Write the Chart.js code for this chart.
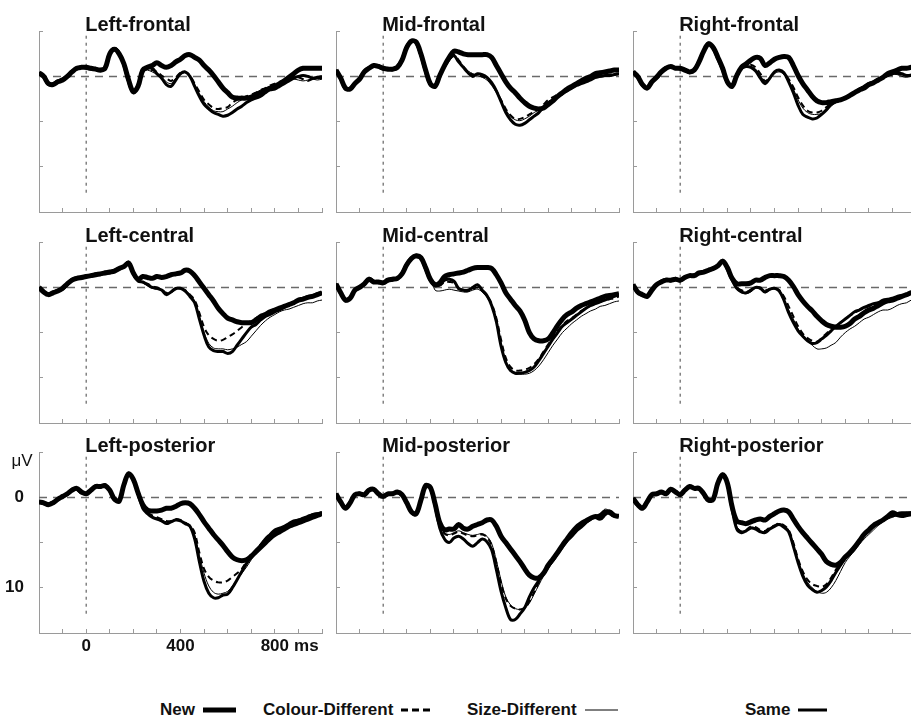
<!DOCTYPE html>
<html>
<head>
<meta charset="utf-8">
<title>ERP waveforms by region</title>
<script src="https://cdn.jsdelivr.net/npm/chart.js@4.4.1/dist/chart.umd.min.js"></script>
<style>
  html, body { margin: 0; padding: 0; background: #fff; }
  body { position: relative; width: 911px; height: 718px; overflow: hidden;
         font-family: "Liberation Sans", Arial, sans-serif; color: #111; }
  canvas.panel { position: absolute; }
  .lg-item { position: absolute; top: 699px; height: 22px; display: flex; align-items: center;
             font-size: 17px; font-weight: bold; white-space: nowrap; color: #111; }
  .lg-item svg { margin-left: 8px; }
</style>
</head>
<body>

<canvas class="panel" id="p0"></canvas>
<canvas class="panel" id="p1"></canvas>
<canvas class="panel" id="p2"></canvas>
<canvas class="panel" id="p3"></canvas>
<canvas class="panel" id="p4"></canvas>
<canvas class="panel" id="p5"></canvas>
<canvas class="panel" id="p6"></canvas>
<canvas class="panel" id="p7"></canvas>
<canvas class="panel" id="p8"></canvas>

<div class="lg-item" style="left:160px"><span>New</span><svg width="33" height="10"><line x1="0" y1="5" x2="33" y2="5" stroke="#000" stroke-width="5"/></svg></div>
<div class="lg-item" style="left:263px"><span>Colour-Different</span><svg width="29" height="10"><line x1="0" y1="5" x2="29" y2="5" stroke="#000" stroke-width="3" stroke-dasharray="7,4"/></svg></div>
<div class="lg-item" style="left:467px"><span>Size-Different</span><svg width="33" height="10"><line x1="0" y1="5" x2="33" y2="5" stroke="#000" stroke-width="1"/></svg></div>
<div class="lg-item" style="left:745px"><span>Same</span><svg width="29" height="10"><line x1="0" y1="5" x2="29" y2="5" stroke="#000" stroke-width="3"/></svg></div>

<script>
// Sample times (ms relative to stimulus onset)
const TIME_MS = [-200,-180,-160,-140,-120,-100,-80,-60,-40,-20,0,20,40,60,80,100,120,140,160,180,
  200,220,240,260,280,300,320,340,360,380,400,420,440,460,480,500,520,540,560,580,
  600,620,640,660,680,700,720,740,760,780,800,820,840,860,880,900,920,940,960,980,1000];

// Tick labels shown on the lower-left panel
const X_TICK_LABELS = [0, 400, 800];
const Y_TICK_LABELS = [0, 10];

const REGIONS = ['Left-frontal','Mid-frontal','Right-frontal',
                 'Left-central','Mid-central','Right-central',
                 'Left-posterior','Mid-posterior','Right-posterior'];

// Mean amplitudes (µV) per region and condition
const leftFrontalNew = [-0.4,0.0,0.8,0.9,0.6,0.4,0.0,-0.5,-0.9,-1.0,-1.0,-0.9,-0.8,-0.7,-0.9,-2.5,-3.0,-2.5,-1.4,0.4,1.7,1.1,-0.7,-1.0,-1.2,-1.5,-1.2,-1.0,-1.2,-1.6,-1.9,-2.3,-2.4,-2.1,-1.8,-1.2,-0.7,-0.1,0.6,1.3,1.8,2.3,2.4,2.4,2.4,2.3,2.0,1.8,1.5,1.3,1.1,0.8,0.5,0.1,-0.3,-0.7,-0.9,-0.9,-0.9,-0.9,-0.9];
const leftFrontalColour = [-0.4,0.0,0.7,0.9,0.6,0.3,0.0,-0.5,-0.9,-1.0,-1.0,-0.9,-0.7,-0.7,-0.8,-2.4,-3.1,-2.7,-1.5,0.3,1.6,1.2,-0.7,-0.8,-0.7,-0.5,-0.1,0.2,0.5,0.1,-0.4,-0.5,-0.1,0.8,1.7,2.6,3.1,3.5,3.6,3.5,3.4,2.9,2.6,2.4,2.2,2.0,1.8,1.5,1.3,1.0,0.8,0.6,0.4,0.2,0.0,0.1,0.3,0.5,0.3,0.2,0.2];
const leftFrontalSize = [-0.5,-0.1,0.8,1.0,0.6,0.4,0.1,-0.4,-0.9,-0.9,-1.1,-0.9,-0.8,-0.8,-0.9,-2.3,-3.0,-2.6,-1.3,0.5,1.7,1.1,-0.7,-0.7,-0.5,-0.2,0.1,0.6,0.8,0.2,-0.2,-0.4,0.0,0.9,1.9,2.8,3.4,3.8,3.9,3.9,3.6,3.3,2.9,2.6,2.4,2.1,1.8,1.5,1.3,1.1,0.9,0.8,0.6,0.4,0.3,0.4,0.5,0.4,0.3,0.4,0.3];
const leftFrontalSame = [-0.3,0.1,0.9,0.8,0.5,0.3,-0.1,-0.6,-0.8,-1.1,-0.9,-0.8,-0.9,-0.6,-1.0,-2.6,-3.1,-2.6,-1.2,0.6,1.8,1.0,-0.5,-0.9,-0.9,-0.3,0.2,0.9,1.1,0.4,-0.3,-0.5,0.0,1.1,2.2,3.1,3.6,4.0,4.2,4.4,4.3,4.0,3.6,3.3,2.9,2.6,2.4,2.2,1.8,1.5,1.4,1.1,0.8,0.5,0.2,0.0,-0.1,0.0,0.2,0.1,0.0];

const midFrontalNew = [-0.7,0.2,1.3,1.4,0.8,0.3,-0.5,-0.9,-1.2,-1.1,-0.9,-0.8,-0.8,-1.0,-1.8,-3.2,-3.9,-3.8,-2.5,-0.7,0.8,1.1,-0.1,-1.2,-2.1,-2.8,-2.7,-2.5,-2.4,-2.4,-2.4,-2.4,-2.4,-2.1,-1.2,-0.3,0.6,1.3,1.8,2.4,2.9,3.3,3.5,3.6,3.5,3.1,2.7,2.2,1.8,1.4,1.1,0.8,0.5,0.2,0.0,-0.3,-0.4,-0.5,-0.6,-0.7,-0.7];
const midFrontalColour = [-0.7,0.2,1.2,1.4,0.8,0.3,-0.5,-0.9,-1.2,-1.0,-0.9,-0.8,-0.9,-1.0,-1.7,-3.1,-3.8,-3.9,-2.6,-0.8,0.7,1.1,-0.1,-1.0,-1.8,-2.4,-1.8,-1.1,-0.5,-0.2,-0.2,0.0,0.3,0.8,1.6,2.6,3.6,4.3,4.7,4.7,4.5,4.2,3.9,3.6,3.1,2.6,2.3,2.0,1.7,1.4,1.1,0.9,0.7,0.5,0.3,0.0,-0.1,-0.2,-0.2,-0.3,-0.3];
const midFrontalSize = [-0.8,0.1,1.3,1.5,0.9,0.4,-0.4,-0.8,-1.1,-1.1,-1.0,-0.7,-0.8,-0.9,-1.8,-3.2,-3.9,-3.7,-2.4,-0.6,0.8,1.2,0.0,-1.0,-1.7,-2.2,-1.7,-1.0,-0.6,-0.3,-0.1,0.1,0.4,1.0,1.8,2.8,3.7,4.4,4.8,4.9,4.7,4.4,4.0,3.7,3.2,2.8,2.5,2.1,1.8,1.5,1.2,1.0,0.8,0.6,0.4,0.2,0.1,0.0,-0.1,-0.1,-0.2];
const midFrontalSame = [-0.6,0.3,1.4,1.3,0.7,0.2,-0.6,-1.0,-1.1,-1.2,-0.8,-0.9,-0.7,-1.1,-1.9,-3.3,-4.0,-3.7,-2.3,-0.5,0.9,1.0,-0.2,-1.1,-1.9,-2.3,-1.6,-1.0,-0.4,0.0,-0.3,-0.2,0.1,0.7,1.6,2.8,4.0,4.8,5.3,5.4,5.2,4.8,4.4,4.0,3.4,2.9,2.6,2.2,1.9,1.6,1.3,1.0,0.8,0.6,0.4,0.1,0.0,-0.1,-0.1,-0.2,-0.3];

const rightFrontalNew = [-0.5,0.0,0.9,1.3,0.6,0.1,-0.5,-0.9,-1.1,-0.9,-0.9,-0.7,-0.5,-0.7,-1.6,-2.8,-3.6,-3.2,-2.1,-0.9,0.6,1.1,-0.1,-1.0,-1.4,-1.8,-2.1,-2.0,-1.2,-1.5,-1.9,-2.1,-2.2,-2.1,-1.2,-0.1,0.8,1.5,2.2,2.7,2.9,2.9,2.8,2.7,2.6,2.4,2.1,1.8,1.5,1.3,0.9,0.7,0.4,0.1,-0.3,-0.5,-0.7,-0.9,-0.9,-1.0,-1.0];
const rightFrontalColour = [-0.5,0.0,0.8,1.3,0.7,0.1,-0.5,-0.8,-1.1,-0.9,-1.0,-0.6,-0.5,-0.6,-1.5,-2.7,-3.5,-3.3,-2.2,-1.0,0.5,1.1,-0.1,-0.9,-1.2,-1.3,-1.0,-0.3,0.5,0.1,-0.4,-0.6,-0.4,0.3,1.2,2.3,3.2,3.8,4.0,4.0,3.8,3.4,3.0,2.7,2.5,2.3,2.0,1.7,1.4,1.1,0.8,0.6,0.3,0.1,-0.1,-0.2,-0.3,-0.2,-0.1,-0.2,-0.2];
const rightFrontalSize = [-0.6,-0.1,0.9,1.2,0.6,0.0,-0.6,-0.9,-1.2,-0.8,-0.9,-0.7,-0.6,-0.7,-1.6,-2.9,-3.5,-3.2,-2.0,-0.8,0.6,1.2,0.0,-0.8,-1.0,-1.1,-0.8,-0.1,0.6,0.3,-0.3,-0.5,-0.2,0.5,1.4,2.6,3.5,4.0,4.2,4.2,4.1,3.8,3.3,2.9,2.6,2.4,2.1,1.8,1.5,1.2,0.9,0.7,0.4,0.2,0.0,-0.2,-0.2,0.0,0.1,0.0,0.0];
const rightFrontalSame = [-0.4,0.1,1.0,1.2,0.5,0.2,-0.4,-1.0,-1.0,-1.0,-0.8,-0.8,-0.4,-0.8,-1.7,-2.9,-3.7,-3.1,-1.9,-0.7,0.7,1.0,-0.2,-0.9,-1.1,-1.0,-0.6,0.2,0.8,0.2,-0.5,-0.7,-0.4,0.6,1.8,3.2,4.2,4.5,4.7,4.6,4.2,3.7,3.1,2.8,2.6,2.4,2.1,1.8,1.4,1.1,0.8,0.6,0.3,0.1,-0.1,-0.3,-0.4,-0.3,-0.1,-0.1,-0.1];

const leftCentralNew = [0.0,0.5,0.8,0.6,0.4,0.1,-0.4,-0.8,-1.0,-1.1,-1.2,-1.3,-1.4,-1.5,-1.6,-1.7,-1.8,-2.1,-2.3,-2.7,-1.6,-0.9,-1.2,-1.1,-1.0,-1.2,-1.1,-1.2,-1.4,-1.5,-1.6,-1.9,-1.8,-1.3,-0.6,0.1,0.8,1.5,2.3,2.9,3.4,3.6,3.8,3.9,3.9,3.9,3.6,3.2,3.0,2.7,2.5,2.3,2.1,1.9,1.7,1.4,1.3,1.1,1.0,0.8,0.6];
const leftCentralColour = [0.0,0.4,0.8,0.7,0.4,0.0,-0.5,-0.7,-1.0,-1.2,-1.1,-1.4,-1.3,-1.6,-1.5,-1.8,-1.7,-2.2,-2.3,-2.7,-1.6,-0.8,-0.5,-0.4,-0.1,0.0,0.2,0.6,0.5,0.2,0.1,0.3,0.8,1.4,2.8,4.4,5.3,5.7,5.9,5.8,5.5,5.2,4.8,4.4,4.0,3.7,3.4,3.1,2.9,2.6,2.4,2.2,2.0,1.8,1.6,1.4,1.3,1.1,0.9,0.8,0.7];
const leftCentralSize = [0.1,0.5,0.9,0.6,0.3,0.1,-0.3,-0.8,-0.9,-1.1,-1.2,-1.2,-1.4,-1.4,-1.6,-1.7,-1.8,-2.0,-2.4,-2.6,-1.7,-0.8,-0.5,-0.2,0.1,0.2,0.3,0.7,0.6,0.2,0.2,0.3,0.8,1.5,3.2,5.0,6.2,6.7,6.8,6.8,6.9,6.8,6.6,6.3,6.0,5.4,4.8,4.2,3.7,3.3,3.0,2.7,2.5,2.4,2.2,2.0,1.8,1.7,1.7,1.5,1.4];
const leftCentralSame = [0.1,0.6,0.7,0.5,0.3,0.2,-0.3,-0.9,-1.1,-1.0,-1.3,-1.2,-1.5,-1.4,-1.7,-1.6,-1.9,-2.0,-2.4,-2.8,-1.5,-0.7,-0.6,-0.3,0.0,0.1,0.3,0.8,0.5,0.1,0.1,0.4,1.0,1.7,3.5,5.3,6.6,7.0,7.1,7.1,7.3,7.1,6.4,5.7,5.0,4.4,4.1,3.6,3.2,3.0,2.7,2.5,2.2,1.9,1.7,1.4,1.2,1.0,0.9,0.7,0.6];

const midCentralNew = [-0.4,0.6,1.4,1.2,0.3,0.0,-0.4,-0.9,-0.6,-0.6,-0.5,-0.8,-0.9,-1.0,-1.5,-2.5,-3.2,-3.5,-3.3,-2.2,-0.9,-0.3,-0.5,-1.2,-1.4,-1.5,-1.6,-1.7,-1.9,-2.1,-2.2,-2.2,-2.2,-2.1,-1.4,-0.5,0.6,1.3,2.0,2.6,3.6,5.0,5.7,5.9,5.9,5.7,5.0,4.2,3.5,3.0,2.7,2.3,2.0,1.8,1.6,1.4,1.2,1.0,0.9,0.8,0.7];
const midCentralColour = [-0.4,0.5,1.3,1.2,0.3,0.0,-0.5,-0.8,-0.7,-0.7,-0.5,-0.9,-0.8,-1.1,-1.4,-2.4,-3.1,-3.6,-3.2,-2.3,-1.0,-0.4,-0.2,-0.6,-0.6,-0.5,0.2,0.4,0.4,0.2,0.0,0.4,0.9,1.8,3.4,5.8,7.8,8.8,9.2,9.2,9.1,8.9,8.5,7.9,7.1,6.3,5.5,4.8,4.2,3.7,3.4,3.0,2.6,2.3,2.0,1.8,1.6,1.4,1.3,1.2,1.0];
const midCentralSize = [-0.5,0.6,1.4,1.3,0.4,0.1,-0.4,-0.9,-0.5,-0.7,-0.4,-0.8,-0.9,-0.9,-1.4,-2.5,-3.0,-3.4,-3.4,-2.1,-1.1,0.3,0.4,0.3,0.2,0.3,0.4,0.5,0.5,0.3,0.2,0.5,1.1,2.0,3.6,6.2,8.2,9.2,9.5,9.6,9.6,9.5,9.2,8.7,8.0,7.2,6.4,5.7,5.0,4.5,4.0,3.6,3.2,2.9,2.6,2.4,2.1,2.0,1.8,1.6,1.5];
const midCentralSame = [-0.3,0.7,1.5,1.1,0.4,-0.1,-0.3,-1.0,-0.7,-0.5,-0.6,-0.7,-1.0,-0.9,-1.6,-2.6,-3.3,-3.4,-3.2,-2.0,-0.8,-0.2,-0.3,-0.8,-0.9,-0.7,0.1,0.3,0.3,0.0,-0.3,0.3,0.9,2.0,3.8,6.5,8.3,9.2,9.5,9.5,9.4,9.2,8.8,8.1,7.3,6.5,5.7,5.0,4.3,3.9,3.5,3.1,2.7,2.3,2.0,1.8,1.6,1.4,1.2,1.0,0.8];

const rightCentralNew = [-0.3,0.5,0.8,1.0,0.3,-0.3,-0.6,-0.8,-0.8,-0.9,-0.8,-1.1,-1.3,-1.3,-1.6,-1.7,-1.9,-2.1,-2.4,-2.9,-2.2,-1.0,-0.4,-0.4,-0.4,-0.5,-0.8,-0.8,-1.1,-1.3,-1.3,-1.3,-1.2,-0.8,-0.1,0.8,1.5,2.1,2.6,3.2,3.7,4.1,4.3,4.4,4.4,4.3,4.0,3.5,3.2,2.8,2.5,2.3,2.0,1.7,1.5,1.4,1.2,1.0,0.8,0.6,0.6];
const rightCentralColour = [-0.3,0.4,0.8,1.1,0.4,-0.3,-0.5,-0.8,-0.9,-0.8,-0.9,-1.0,-1.4,-1.2,-1.6,-1.6,-2.0,-2.0,-2.5,-2.8,-2.1,-0.9,0.0,0.3,0.5,0.3,0.0,0.0,0.3,0.2,0.1,0.3,1.0,2.1,3.2,4.3,5.1,5.6,5.9,6.0,5.6,5.1,4.6,4.2,3.9,3.5,3.1,2.8,2.5,2.3,2.1,1.9,1.7,1.5,1.4,1.2,1.1,0.9,0.8,0.7,0.6];
const rightCentralSize = [-0.4,0.5,0.7,1.0,0.3,-0.4,-0.6,-0.7,-0.8,-0.9,-0.8,-1.1,-1.3,-1.3,-1.7,-1.7,-1.9,-2.1,-2.4,-2.9,-2.2,-0.8,0.2,0.6,0.7,0.5,0.1,0.2,0.6,0.3,0.2,0.5,1.5,2.5,3.5,4.6,5.3,5.9,6.4,6.8,6.8,6.7,6.4,6.1,5.5,5.0,4.6,4.3,3.9,3.5,3.3,3.0,2.7,2.5,2.5,2.3,2.0,1.8,1.7,1.4,1.3];
const rightCentralSame = [-0.2,0.6,0.9,0.9,0.2,-0.2,-0.7,-0.9,-0.7,-1.0,-0.7,-1.2,-1.2,-1.4,-1.5,-1.8,-1.8,-2.2,-2.3,-3.0,-2.0,-0.8,0.1,0.5,0.6,0.3,0.0,0.1,0.5,0.2,0.1,0.4,1.4,2.8,3.9,4.8,5.4,5.9,6.2,6.1,5.7,5.3,4.8,4.3,3.9,3.5,3.1,2.7,2.5,2.2,2.0,1.8,1.7,1.4,1.3,1.2,1.0,0.9,0.8,0.6,0.6];

const leftPosteriorNew = [0.5,0.6,0.8,0.6,0.2,-0.1,-0.4,-0.8,-1.0,-0.6,-0.4,-0.8,-1.2,-1.2,-1.3,-0.8,0.2,0.4,-1.4,-2.6,-2.0,-0.5,0.8,1.4,1.5,1.5,1.4,1.2,1.2,1.0,0.7,0.6,0.7,1.2,1.9,2.7,3.4,4.1,4.7,5.3,6.0,6.6,6.9,7.0,6.9,6.5,6.0,5.5,5.0,4.5,4.1,3.8,3.5,3.2,3.0,2.8,2.6,2.4,2.2,2.0,1.8];
const leftPosteriorColour = [0.5,0.5,0.8,0.7,0.2,0.0,-0.4,-0.7,-1.0,-0.7,-0.3,-0.8,-1.1,-1.3,-1.2,-0.9,0.1,0.4,-1.3,-2.5,-2.0,-0.5,1.0,1.6,2.0,2.2,2.4,2.6,2.6,2.4,2.5,2.8,3.1,3.9,6.1,7.9,8.8,9.2,9.4,9.4,9.2,8.8,8.4,7.9,7.1,6.4,5.8,5.2,4.6,4.1,3.7,3.4,3.2,2.9,2.7,2.5,2.3,2.1,1.9,1.8,1.7];
const leftPosteriorSize = [0.6,0.6,0.9,0.6,0.1,-0.1,-0.5,-0.8,-1.1,-0.6,-0.4,-0.9,-1.2,-1.2,-1.3,-0.8,0.1,0.4,-1.4,-2.5,-1.9,-0.4,1.1,1.7,2.1,2.3,2.5,2.7,2.7,2.4,2.6,2.8,3.1,4.1,6.4,8.4,9.8,10.5,10.7,10.6,10.4,9.8,9.1,8.4,7.7,6.9,6.2,5.5,4.9,4.3,3.8,3.5,3.2,2.9,2.6,2.4,2.3,2.1,1.8,1.7,1.6];
const leftPosteriorSame = [0.4,0.7,0.7,0.5,0.3,-0.2,-0.3,-0.9,-0.9,-0.5,-0.5,-0.7,-1.3,-1.1,-1.4,-0.7,0.3,0.3,-1.5,-2.7,-1.9,-0.4,1.2,1.8,2.2,2.4,2.6,2.9,2.7,2.5,2.6,2.9,3.2,4.6,7.1,9.3,10.6,11.1,11.1,10.8,10.7,10.0,9.1,8.2,7.3,6.6,5.9,5.3,4.6,4.1,3.6,3.4,3.2,2.9,2.6,2.5,2.3,2.1,1.9,1.8,1.7];

const midPosteriorNew = [-0.4,0.5,1.2,0.6,-0.3,-0.4,-0.3,-0.8,-0.9,-0.4,-0.1,-0.4,-0.4,-0.6,-0.3,0.6,1.6,1.8,0.3,-1.3,-1.1,0.7,2.8,3.6,3.5,3.5,3.0,3.4,3.5,3.2,3.0,2.8,2.5,2.5,3.2,4.3,5.0,5.7,6.4,7.1,7.9,8.6,8.9,8.9,8.4,7.5,6.8,6.1,5.3,4.6,3.9,3.3,2.9,2.6,2.3,2.1,2.3,1.8,1.6,2.0,2.1];
const midPosteriorColour = [-0.4,0.4,1.1,0.7,-0.2,-0.3,-0.4,-0.7,-0.9,-0.5,-0.1,-0.5,-0.3,-0.6,-0.4,0.5,1.5,1.7,0.2,-1.2,-1.0,0.8,3.0,4.0,4.2,4.0,3.8,4.0,4.2,4.3,4.2,4.1,4.4,5.3,7.2,9.5,11.2,12.0,12.3,12.4,12.2,11.5,10.5,9.4,8.5,7.7,7.0,6.2,5.4,4.7,4.1,3.6,3.2,2.8,2.4,2.2,2.0,1.7,1.9,2.1,2.0];
const midPosteriorSize = [-0.5,0.5,1.3,0.6,-0.3,-0.4,-0.3,-0.8,-1.0,-0.4,0.0,-0.4,-0.5,-0.6,-0.2,0.8,1.7,1.7,0.2,-1.3,-1.1,0.6,2.9,3.9,4.1,3.9,3.7,3.9,4.1,4.2,4.1,4.0,4.3,5.1,7.0,9.2,11.0,11.9,12.3,12.4,12.3,11.7,10.7,9.7,8.7,7.9,7.1,6.3,5.5,4.8,4.2,3.7,3.3,2.9,2.5,2.2,1.9,1.3,1.5,2.0,2.1];
const midPosteriorSame = [-0.3,0.6,1.1,0.5,-0.2,-0.5,-0.2,-0.9,-0.8,-0.3,-0.2,-0.3,-0.5,-0.5,-0.2,0.7,1.7,1.9,0.4,-1.4,-1.0,0.9,3.4,4.6,5.0,4.5,4.3,4.6,5.1,5.4,5.0,4.6,4.9,5.8,8.0,10.4,12.2,13.5,13.5,12.9,12.2,11.0,10.0,9.2,8.4,7.6,7.0,6.2,5.5,4.8,4.3,3.7,3.3,2.8,2.4,2.1,1.9,1.5,1.8,2.0,2.0];

const rightPosteriorNew = [0.1,0.8,1.2,0.5,-0.3,-0.4,-0.6,-0.4,-0.9,-0.6,-0.3,-0.8,-1.2,-1.0,-1.0,-0.4,0.3,0.2,-1.6,-2.5,-1.6,1.0,2.6,2.8,2.9,2.7,2.5,2.4,2.5,2.1,1.8,1.5,1.4,1.6,2.4,3.2,3.9,4.5,5.1,5.7,6.3,7.1,7.4,7.5,7.2,6.6,6.1,5.5,4.8,4.1,3.6,3.1,2.8,2.5,2.1,1.7,1.9,2.0,1.9,1.8,1.8];
const rightPosteriorColour = [0.1,0.7,1.2,0.6,-0.3,-0.3,-0.6,-0.3,-0.9,-0.5,-0.4,-0.7,-1.2,-0.9,-1.1,-0.4,0.2,0.3,-1.5,-2.4,-1.7,1.1,3.3,3.8,3.6,3.2,3.3,3.6,3.7,3.3,3.1,2.9,3.1,3.6,5.0,6.8,8.2,9.1,9.6,9.8,9.9,9.6,8.9,8.0,7.3,6.6,6.0,5.4,4.7,4.1,3.6,3.2,2.8,2.5,2.3,2.1,1.9,1.8,1.7,1.6,1.6];
const rightPosteriorSize = [0.0,0.8,1.3,0.5,-0.4,-0.4,-0.7,-0.4,-1.0,-0.6,-0.3,-0.8,-1.3,-1.0,-1.0,-0.3,0.3,0.2,-1.6,-2.5,-1.6,0.9,3.2,3.7,3.6,3.3,3.4,3.7,3.8,3.4,3.1,2.9,3.1,3.6,5.2,7.0,8.4,9.4,10.0,10.4,10.6,10.5,10.0,9.2,8.2,7.2,6.5,5.9,5.2,4.6,4.1,3.6,3.1,2.7,2.4,2.2,2.0,1.8,1.7,1.7,1.6];
const rightPosteriorSame = [0.2,0.9,1.1,0.4,-0.2,-0.5,-0.5,-0.5,-0.8,-0.7,-0.2,-0.9,-1.1,-1.1,-0.9,-0.5,0.4,0.1,-1.7,-2.6,-1.5,1.3,3.5,3.9,3.7,3.4,3.5,3.8,3.9,3.5,3.2,3.0,3.3,3.8,5.4,7.2,8.7,9.7,10.2,10.5,10.3,9.9,9.2,8.3,7.5,6.7,6.1,5.5,4.8,4.2,3.7,3.2,2.8,2.5,2.2,2.0,1.8,1.7,1.7,1.7,1.6];

const PANEL_SERIES = [
  [leftFrontalNew, leftFrontalColour, leftFrontalSize, leftFrontalSame],
  [midFrontalNew, midFrontalColour, midFrontalSize, midFrontalSame],
  [rightFrontalNew, rightFrontalColour, rightFrontalSize, rightFrontalSame],
  [leftCentralNew, leftCentralColour, leftCentralSize, leftCentralSame],
  [midCentralNew, midCentralColour, midCentralSize, midCentralSame],
  [rightCentralNew, rightCentralColour, rightCentralSize, rightCentralSame],
  [leftPosteriorNew, leftPosteriorColour, leftPosteriorSize, leftPosteriorSame],
  [midPosteriorNew, midPosteriorColour, midPosteriorSize, midPosteriorSame],
  [rightPosteriorNew, rightPosteriorColour, rightPosteriorSize, rightPosteriorSame]
];

// ---- layout / styling ----
const FONT = '"Liberation Sans", Arial, Helvetica, sans-serif';
Chart.defaults.font.family = FONT;
const COL_LEFT = [39, 336, 633];
const ROW_TOP = [27, 238, 448];
const PLOT_W = 286, PLOT_H = 185;
const Y_AXIS_W = 40, X_AXIS_H = 30, PAD_TOP = 25, PAD_RIGHT = 4;
const INK = '#111';
const AXIS_GREY = '#9a9a9a';

const toPoints = vals => TIME_MS.map((t, i) => ({ x: t, y: vals[i] }));

// Region name above each panel, plus unit labels on the lower-left panel
const panelText = {
  id: 'panelText',
  afterDraw(chart, args, opts) {
    const { ctx, chartArea } = chart;
    const xs = chart.scales.x, ys = chart.scales.y;
    ctx.save();
    ctx.fillStyle = INK;
    ctx.font = 'bold 20px ' + FONT;
    ctx.textAlign = 'left';
    ctx.textBaseline = 'alphabetic';
    ctx.fillText(opts.title, xs.getPixelForValue(0) - 1, chartArea.top);
    if (opts.units) {
      ctx.font = 'bold 17px ' + FONT;
      const half = ctx.measureText('800').width / 2;
      ctx.textBaseline = 'middle';
      ctx.fillText('ms', xs.getPixelForValue(800) + half + 5, chartArea.bottom + 13);
      ctx.font = '17px ' + FONT;
      ctx.textAlign = 'center';
      ctx.fillText('\u03bcV', chartArea.left - 17, ys.getPixelForValue(-4));
    }
    ctx.restore();
  }
};

function buildPanel(idx) {
  const col = idx % 3, row = Math.floor(idx / 3);
  const showLabels = idx === 6;
  const canvas = document.getElementById('p' + idx);
  canvas.width = Y_AXIS_W + PLOT_W + PAD_RIGHT;
  canvas.height = PAD_TOP + PLOT_H + X_AXIS_H;
  canvas.style.left = (COL_LEFT[col] - Y_AXIS_W) + 'px';
  canvas.style.top = (ROW_TOP[row] - PAD_TOP) + 'px';

  const [sNew, sColour, sSize, sSame] = PANEL_SERIES[idx];
  const line = (label, vals, width, dash) => ({
    label, data: toPoints(vals), borderColor: '#000', borderWidth: width,
    borderDash: dash || [], pointRadius: 0, tension: 0.35, order: 1
  });

  new Chart(canvas, {
    type: 'line',
    data: {
      datasets: [
        line('New', sNew, 5),
        line('Same', sSame, 3),
        line('Colour-Different', sColour, 2, [6, 4]),
        line('Size-Different', sSize, 1),
        { label: 'baseline', data: [{ x: -200, y: 0 }, { x: 1000, y: 0 }],
          borderColor: '#6a6a6a', borderWidth: 1.5, borderDash: [8, 6], pointRadius: 0, order: 10 },
        { label: 'onset', data: [{ x: 0, y: -4.5 }, { x: 0, y: 13.3 }],
          borderColor: '#444', borderWidth: 1, borderDash: [3, 4], pointRadius: 0, order: 10 }
      ]
    },
    options: {
      responsive: false,
      animation: false,
      events: [],
      layout: { autoPadding: false, padding: { top: PAD_TOP, right: PAD_RIGHT, left: 0, bottom: 0 } },
      plugins: {
        legend: { display: false },
        tooltip: { enabled: false },
        panelText: { title: REGIONS[idx], units: showLabels }
      },
      scales: {
        x: {
          type: 'linear', min: -200, max: 1000,
          grid: { drawOnChartArea: false, tickLength: -4, color: AXIS_GREY, lineWidth: 1 },
          border: { display: true, color: AXIS_GREY, width: 1 },
          ticks: {
            stepSize: 100, autoSkip: false, maxRotation: 0, minRotation: 0, padding: 7,
            color: INK, font: { size: 17, weight: 'bold' },
            callback: v => (showLabels && X_TICK_LABELS.includes(v)) ? String(v) : ''
          },
          afterFit: s => { s.height = X_AXIS_H; }
        },
        y: {
          min: -5, max: 15, reverse: true,
          grid: { drawOnChartArea: false, tickLength: -4, color: AXIS_GREY, lineWidth: 1 },
          border: { display: true, color: AXIS_GREY, width: 1 },
          ticks: {
            stepSize: 5, autoSkip: false, padding: 19,
            color: INK, font: { size: 17, weight: 'bold' },
            callback: v => (showLabels && Y_TICK_LABELS.includes(v)) ? String(v) : ''
          },
          afterFit: s => { s.width = Y_AXIS_W; }
        }
      }
    },
    plugins: [panelText]
  });
}

for (let i = 0; i < 9; i++) buildPanel(i);
</script>
</body>
</html>
